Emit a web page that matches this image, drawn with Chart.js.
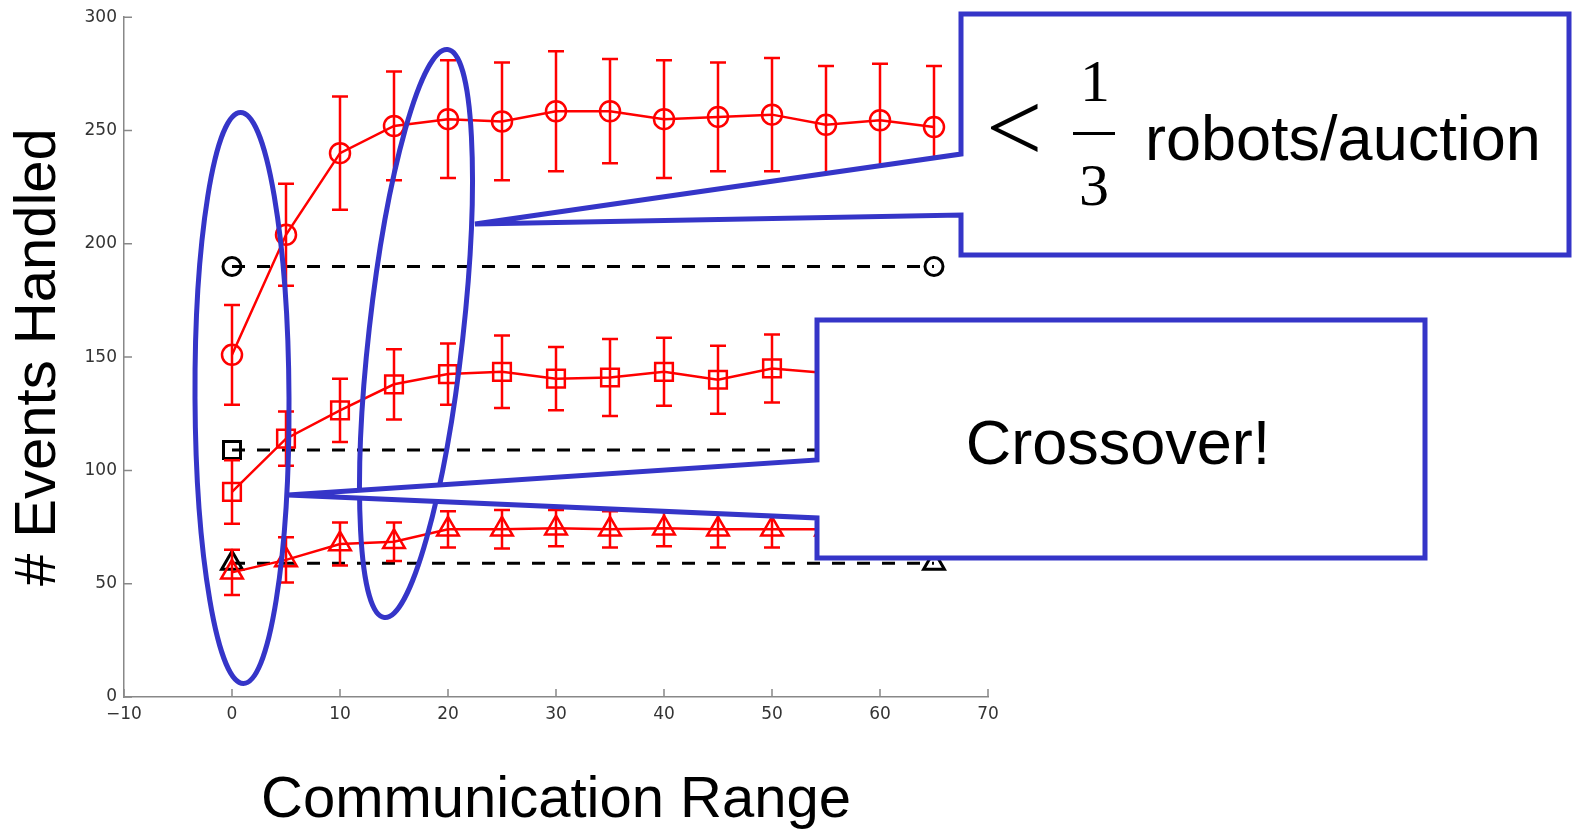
<!DOCTYPE html>
<html lang="en">
<head>
<meta charset="UTF-8">
<title>Events Handled vs Communication Range</title>
<script src="https://cdn.jsdelivr.net/npm/chart.js"></script>
<style>
  body { margin: 0; background: #fff; }
  canvas { display: block; }
</style>
</head>
<body>
<canvas id="myChart" width="1575" height="830"></canvas>
<script>
// communication range (x values)
const ranges = [0, 5, 10, 15, 20, 25, 30, 35, 40, 45, 50, 55, 60, 65];

// red series with error bars (mean, +/- error)
const circleMean = [151, 204, 240, 252, 255, 254, 258.5, 258.5, 255, 256, 257, 252.5, 254.5, 251.5];
const circleErr = [22, 22.5, 25, 24, 26, 26, 26.5, 23, 26, 24, 25, 26, 25, 27];
const squareMean = [90.5, 114, 126.5, 138, 142.5, 143.5, 140.5, 141, 143.5, 140, 145, 143, 143.5, 141.5];
const squareErr = [14, 12, 14, 15.5, 13.5, 16, 14, 17, 15, 15, 15, 15, 15, 15];
const triMean = [55, 60.5, 67.5, 68.5, 74, 74, 74.5, 74, 74.5, 74, 74, 74, 74, 74];
const triErr = [10, 10, 9.5, 8.5, 8, 8.5, 8, 8, 8, 8, 8, 7, 8, 8];

// black dashed reference lines
const baseRange = [0, 65];
const circleBase = [190, 190];
const squareBase = [109, 109];
const triBase = [59, 59];

// tick values
const xTicks = [-10, 0, 10, 20, 30, 40, 50, 60, 70];
const yTicks = [0, 50, 100, 150, 200, 250, 300];

const BLUE = '#3535c8';
const SANS = '"Liberation Sans", Arial, Helvetica, sans-serif';
const SERIF = '"Liberation Serif", "Times New Roman", serif';

function pts(xs, ys) {
    return xs.map((x, i) => ({ x: x, y: ys[i] }));
}

const errLists = [circleErr, squareErr, triErr];

// vertical error bars with caps, drawn through the markers
const errorBars = {
    id: 'errorBars',
    afterDatasetsDraw(chart) {
        const ctx = chart.ctx;
        const xs = chart.scales.x, ys = chart.scales.y;
        ctx.save();
        ctx.strokeStyle = '#f00';
        ctx.lineWidth = 2.5;
        errLists.forEach((errs, d) => {
            chart.data.datasets[d].data.forEach((p, i) => {
                const x = xs.getPixelForValue(p.x);
                const top = ys.getPixelForValue(p.y + errs[i]);
                const bot = ys.getPixelForValue(p.y - errs[i]);
                ctx.beginPath();
                ctx.moveTo(x, top); ctx.lineTo(x, bot);
                ctx.moveTo(x - 8, top); ctx.lineTo(x + 8, top);
                ctx.moveTo(x - 8, bot); ctx.lineTo(x + 8, bot);
                ctx.stroke();
            });
        });
        ctx.restore();
    }
};

// matlab style ticks pointing into the plot
const innerTicks = {
    id: 'innerTicks',
    afterDatasetsDraw(chart) {
        const ctx = chart.ctx;
        const xs = chart.scales.x, ys = chart.scales.y;
        const a = chart.chartArea;
        ctx.save();
        ctx.strokeStyle = '#888';
        ctx.lineWidth = 1.5;
        ctx.beginPath();
        xTicks.forEach(v => {
            const px = xs.getPixelForValue(v);
            ctx.moveTo(px, a.bottom); ctx.lineTo(px, a.bottom - 8);
        });
        yTicks.forEach(v => {
            const py = ys.getPixelForValue(v);
            ctx.moveTo(a.left, py); ctx.lineTo(a.left + 8, py);
        });
        ctx.stroke();
        ctx.restore();
    }
};

function callout(ctx, poly) {
    ctx.beginPath();
    ctx.moveTo(poly[0][0], poly[0][1]);
    for (let i = 1; i < poly.length; i++) ctx.lineTo(poly[i][0], poly[i][1]);
    ctx.closePath();
    ctx.fillStyle = '#fff';
    ctx.fill();
    ctx.stroke();
}

// slide annotations: ellipses, callout boxes and their text
const overlay = {
    id: 'overlay',
    afterDraw(chart) {
        const ctx = chart.ctx;
        ctx.save();
        ctx.strokeStyle = BLUE;
        ctx.lineWidth = 5;
        ctx.lineJoin = 'miter';
        ctx.beginPath();
        ctx.ellipse(242, 398, 47, 285.5, -0.005, 0, Math.PI * 2);
        ctx.stroke();
        ctx.beginPath();
        ctx.ellipse(416, 333.5, 47, 285.8, 0.111, 0, Math.PI * 2);
        ctx.stroke();

        callout(ctx, [[961, 14], [1569, 14], [1569, 255], [961, 255], [961, 215], [475, 224], [961, 154]]);
        callout(ctx, [[817, 320], [1425, 320], [1425, 558], [817, 558], [817, 518], [288, 495], [817, 460]]);

        ctx.fillStyle = '#000';
        ctx.textBaseline = 'alphabetic';
        ctx.textAlign = 'left';
        ctx.font = '100px ' + SERIF;
        ctx.fillText('<', 986, 161);
        ctx.textAlign = 'center';
        ctx.font = '60px ' + SERIF;
        ctx.fillText('1', 1095, 101);
        ctx.fillText('3', 1094, 205);
        ctx.fillRect(1073, 132, 42, 3);
        ctx.textAlign = 'left';
        ctx.font = '63px ' + SANS;
        ctx.fillText('robots/auction', 1145, 160);
        ctx.textAlign = 'center';
        ctx.fillText('Crossover!', 1118, 464);
        ctx.restore();
    }
};

function redSet(data, style, radius) {
    return {
        data: data,
        borderColor: '#f00',
        backgroundColor: 'rgba(0,0,0,0)',
        borderWidth: 2.5,
        pointStyle: style,
        pointRadius: radius,
        pointBorderWidth: 2.5,
        pointBorderColor: '#f00',
        pointBackgroundColor: 'rgba(0,0,0,0)',
        showLine: true,
        tension: 0
    };
}

function blackSet(data, style, radius) {
    return {
        data: data,
        borderColor: '#000',
        backgroundColor: 'rgba(0,0,0,0)',
        borderWidth: 3,
        borderDash: [13, 12],
        pointStyle: style,
        pointRadius: radius,
        pointBorderWidth: 3,
        pointBorderColor: '#000',
        pointBackgroundColor: 'rgba(0,0,0,0)',
        showLine: true
    };
}

const ctx = document.getElementById('myChart');
new Chart(ctx, {
    type: 'scatter',
    data: {
        datasets: [
            redSet(pts(ranges, circleMean), 'circle', 10),
            redSet(pts(ranges, squareMean), 'rect', 12.5),
            redSet(pts(ranges, triMean), 'triangle', 12.5),
            blackSet(pts(baseRange, circleBase), 'circle', 9),
            blackSet(pts(baseRange, squareBase), 'rect', 12),
            blackSet(pts(baseRange, triBase), 'triangle', 12)
        ]
    },
    options: {
        responsive: false,
        animation: false,
        layout: { padding: { left: 0, top: 17, right: 587, bottom: 0 } },
        plugins: { legend: { display: false }, tooltip: { enabled: false } },
        scales: {
            x: {
                type: 'linear',
                min: -10,
                max: 70,
                afterFit(scale) { scale.height = 133; },
                afterBuildTicks(scale) { scale.ticks = xTicks.map(v => ({ value: v })); },
                grid: { drawOnChartArea: false, drawTicks: false },
                border: { display: true, color: '#888', width: 1.5 },
                ticks: {
                    padding: 7,
                    color: '#333',
                    font: { family: '"DejaVu Sans", sans-serif', size: 17 },
                    callback: v => v < 0 ? '\u2212' + Math.abs(v) : String(v)
                },
                title: {
                    display: true,
                    text: 'Communication Range',
                    color: '#000',
                    font: { family: SANS, size: 58, lineHeight: 1.0 },
                    padding: { top: 0, bottom: 0 }
                }
            },
            y: {
                min: 0,
                max: 300,
                afterFit(scale) { scale.width = 124; },
                afterBuildTicks(scale) { scale.ticks = yTicks.map(v => ({ value: v })); },
                grid: { drawOnChartArea: false, drawTicks: false },
                border: { display: true, color: '#888', width: 1.5 },
                ticks: {
                    padding: 7,
                    color: '#333',
                    font: { family: '"DejaVu Sans", sans-serif', size: 17 }
                },
                title: {
                    display: true,
                    text: '# Events Handled',
                    color: '#000',
                    font: { family: SANS, size: 58 },
                    padding: { top: 4, bottom: 0 }
                }
            }
        }
    },
    plugins: [innerTicks, errorBars, overlay]
});
</script>
</body>
</html>
